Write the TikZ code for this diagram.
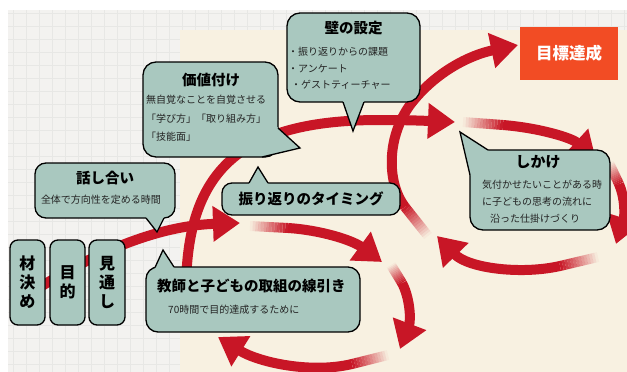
\documentclass[tikz,border=0pt]{standalone}
\usepackage{fontspec}
\setmainfont{Noto Sans CJK JP}
\usetikzlibrary{arrows.meta,calc}
\definecolor{calfill}{RGB}{169,200,191}
\definecolor{arrred}{RGB}{200,22,38}
\definecolor{goalbg}{RGB}{242,76,36}
\definecolor{cream}{RGB}{248,241,225}
\definecolor{gridbg}{RGB}{243,242,240}
\definecolor{gridln}{RGB}{231,231,229}
\definecolor{txt}{RGB}{35,35,35}
\tikzset{
  redline/.style={draw=arrred, line width=10pt},
  redarrow/.style={redline, -{Triangle[length=27pt,width=34pt]}},
  bubble/.style={fill=calfill, draw=black, line width=1.3pt, rounded corners=13pt, inner sep=0pt},
  tailline/.style={draw=black, line width=1.3pt, line join=miter},
  ttl/.style={font=\bfseries\fontsize{14.5}{16}\selectfont, text=black, inner sep=0pt},
  body/.style={font=\fontsize{10}{12}\selectfont, text=txt, inner sep=0pt, anchor=west},
  vbox/.style={bubble, rounded corners=8pt, minimum width=35pt, minimum height=85pt,
    align=center, font=\bfseries\fontsize{16}{19}\selectfont},
}
\newcommand\fadeseg[2]{%
  \foreach \i [evaluate=\i as \op using (\i+0.5)/14] in {0,...,13}{%
    \draw[draw=arrred, line width=10pt, line cap=butt, draw opacity=\op]
      ($(#1)!{\i/14}!(#2)$) -- ($(#1)!{(\i+1)/14}!(#2)$);}}
\begin{document}
\begin{tikzpicture}[x=1pt,y=-1pt]
\useasboundingbox (0,0) rectangle (627,372);
% background
\fill[white] (0,0) rectangle (627,372);
\fill[gridbg] (8,10) rectangle (627,372);
\draw[gridln, line width=0.5pt, step=13pt] (8,10) grid (627,372);
\fill[cream] (180,30) rectangle (627,372);

% ---- arrows ----
% A : from the left boxes
\coordinate (a0) at (20,300);
\coordinate (a1) at (240,223);
\draw[redarrow] (a0) .. controls (80,260) and (150,226) .. (a1);
% B : big loop
\coordinate (b0) at (186,292);
\coordinate (b1) at (380,120);
\coordinate (b2) at (455,122);
\draw[redarrow] (b0) .. controls (186,170) and (240,120) .. (b1) .. controls (410,120) and (430,121) .. (b2);
% C : towards goal
\coordinate (c0) at (428,236);
\coordinate (c1) at (405,207);
\coordinate (c2) at (518,45);
\fadeseg{c0}{c1}
\draw[redarrow] (c1) .. controls (388,185) and (385,140) .. (410,105) .. controls (435,72) and (470,55) .. (c2);
% D1
\coordinate (d0) at (463,122);
\coordinate (d1) at (503,125);
\coordinate (d2) at (596,160);
\fadeseg{d0}{d1}
\draw[redarrow] (d1) .. controls (540,128) and (572,138) .. (d2);
% D2
\coordinate (e0) at (609,163);
\coordinate (e1) at (619,184);
\coordinate (e2) at (616,244);
\fadeseg{e0}{e1}
\draw[redarrow] (e1) .. controls (625,198) and (625,215) .. (e2);
% E
\coordinate (f0) at (598,257);
\coordinate (f1) at (560,266);
\coordinate (f2) at (437,236);
\fadeseg{f0}{f1}
\draw[redarrow] (f1) .. controls (520,275) and (468,268) .. (f2);
% G
\coordinate (g0) at (250,226);
\coordinate (g1) at (288,228);
\coordinate (g2) at (382,262);
\fadeseg{g0}{g1}
\draw[redarrow] (g1) .. controls (320,230) and (352,240) .. (g2);
% H
\coordinate (h0) at (391,265);
\coordinate (h1) at (402,283);
\coordinate (h2) at (400,349);
\fadeseg{h0}{h1}
\draw[redarrow] (h1) .. controls (410,298) and (411,320) .. (h2);
% I
\coordinate (i0) at (388,355);
\coordinate (i1) at (352,364);
\coordinate (i2) at (218,337);
\fadeseg{i0}{i1}
\draw[redarrow] (i1) .. controls (310,374) and (258,362) .. (i2);

% ---- callouts ----
% 壁の設定
\node[bubble, minimum width=133pt, minimum height=89pt] (kabe) at (353.5,57.5) {};
\fill[calfill] (343,99.5) -- (343,102) -- (353,131) -- (364,102) -- (364,99.5) -- cycle;
\draw[tailline] (343,102) -- (353,131) -- (364,102);
\node[ttl] (kabet) at (353.5,28) {壁の設定};
\node[body] (kabe1) at (288,52) {・振り返りからの課題};
\node[body] (kabe2) at (288,68.5) {・アンケート};
\node[body] (kabe3) at (291,85) {・ゲストティーチャー};

% 価値付け
\node[bubble, minimum width=135pt, minimum height=95pt] (kachi) at (210.5,109.5) {};
\fill[calfill] (276,126) -- (278,128) -- (300,148) -- (262,157) -- (262,155) -- cycle;
\draw[tailline] (278,128) -- (300,148) -- (262,157);
\node[ttl] (kachit) at (211,80) {価値付け};
\node[body] (kachi1) at (146,100) {無自覚なことを自覚させる};
\node[body] (kachi2) at (146,118.5) {「学び方」「取り組み方」};
\node[body] (kachi3) at (146,137) {「技能面」};

% 話し合い
\node[bubble, rounded corners=11pt, minimum width=140pt, minimum height=55pt] (hanashi) at (105,190.5) {};
\fill[calfill] (146,215.5) -- (146,218) -- (157,232) -- (164,218) -- (164,215.5) -- cycle;
\draw[tailline] (146,218) -- (157,232) -- (164,218);
\node[ttl] (hanashit) at (105,178) {話し合い};
\node[body, anchor=center] (hanashi1) at (101,200) {全体で方向性を定める時間};

% vertical boxes
\node[vbox] (zai) at (27.5,282.5) {材\\決\\め};
\node[vbox] (mok) at (67.5,282.5) {目\\的};
\node[vbox, minimum width=36pt] (mito) at (107,282.5) {見\\通\\し};

% 振り返りのタイミング
\node[bubble, rounded corners=10pt, minimum width=178pt, minimum height=32pt] (furi) at (311,199) {};
\fill[calfill] (249,185.5) -- (249,183) -- (258,167) -- (268,183) -- (268,185.5) -- cycle;
\draw[tailline] (249,183) -- (258,167) -- (268,183);
\node[ttl] (furit) at (311,199) {振り返りのタイミング};

% 教師と子どもの取組の線引き
\node[bubble, rounded corners=12pt, minimum width=214pt, minimum height=65pt] (kyoshi) at (253,299.5) {};
\fill[calfill] (155,269.5) -- (155,267.5) -- (163,250) -- (174,267) -- (174,269.5) -- cycle;
\draw[tailline] (155,267.5) -- (163,250) -- (174,267);
\node[ttl, anchor=west] (kyoshit) at (157,286) {教師と子どもの取組の線引き};
\node[body] (kyoshi1) at (168,310) {70時間で目的達成するために};

% しかけ
\node[bubble, minimum width=140pt, minimum height=80pt] (shikake) at (540,190) {};
\fill[calfill] (472,175) -- (470,175) -- (460,132) -- (488,150) -- (488,152) -- cycle;
\draw[tailline] (470,175) -- (460,132) -- (488,150);
\node[ttl, font=\bfseries\fontsize{15}{17}\selectfont] (shikaket) at (538,162) {しかけ};
\node[body] (shikake1) at (482,185) {気付かせたいことがある時};
\node[body] (shikake2) at (482,202) {に子どもの思考の流れに};
\node[body] (shikake3) at (490,218.5) {沿った仕掛けづくり};

% 目標達成
\node[fill=goalbg, minimum width=98pt, minimum height=53pt, inner sep=0pt,
      text=white, font=\bfseries\fontsize{16.5}{18}\selectfont] (goal) at (569,53.5) {目標達成};
\end{tikzpicture}
\end{document}
